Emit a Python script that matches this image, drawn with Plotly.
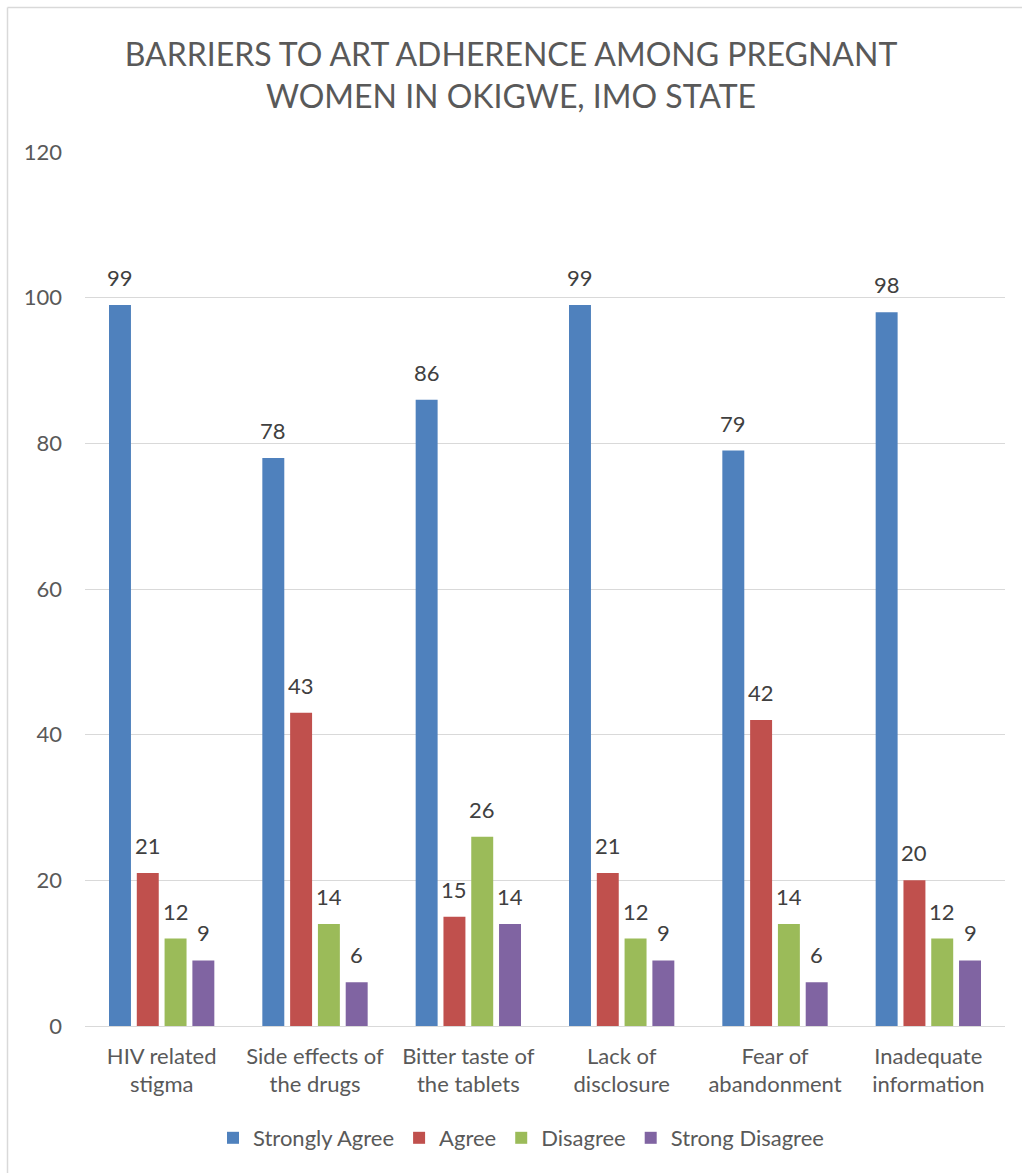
import plotly.graph_objects as go

categories = ["HIV related<br>stigma", "Side effects of<br>the drugs", "Bitter taste of<br>the tablets",
              "Lack of<br>disclosure", "Fear of<br>abandonment", "Inadequate<br>information"]
strongly_agree = [99, 78, 86, 99, 79, 98]
agree = [21, 43, 15, 21, 42, 20]
disagree = [12, 14, 26, 12, 14, 12]
strong_disagree = [9, 6, 14, 9, 6, 9]

series = [
    ("Strongly Agree", strongly_agree, "#4F81BD"),
    ("Agree", agree, "#C0504D"),
    ("Disagree", disagree, "#9BBB59"),
    ("Strong Disagree", strong_disagree, "#8064A2"),
]

FONT = "Lato, 'Open Sans', sans-serif"

W, H = 1022, 1173
L, R, T, B = 85, 1005, 152, 1026
BARGAP = 0.275
GROUPGAP = 0.21

fig = go.Figure()
for name, vals, color in series:
    fig.add_trace(go.Bar(
        x=categories, y=vals, name=name,
        marker=dict(color=color, line=dict(width=0)),
    ))

# value labels above each bar, offset horizontally to the bar's slot in the group
cat_px = (R - L) / len(categories)
slot_px = cat_px * (1 - BARGAP) / len(series)
annotations = []
for i, (name, vals, color) in enumerate(series):
    for cat, v in zip(categories, vals):
        annotations.append(dict(
            x=cat, y=v, xref="x", yref="y", text=str(v), showarrow=False,
            xanchor="center", yanchor="bottom", xshift=(i - 1.5) * slot_px, yshift=12,
            font=dict(size=22, color="#404040", family=FONT),
        ))


def px(x):
    return (x - L) / (R - L)


def py(y):
    return (B - y) / (B - T)


fig.update_layout(
    width=W, height=H,
    margin=dict(l=L, r=W - R, t=T, b=H - B),
    paper_bgcolor="white", plot_bgcolor="white",
    barmode="group", bargap=BARGAP, bargroupgap=GROUPGAP,
    font=dict(family=FONT, color="#595959", size=22),
    title=dict(
        text="BARRIERS TO ART ADHERENCE AMONG PREGNANT<br>WOMEN IN OKIGWE, IMO STATE",
        x=0.5, xanchor="center", y=1 - 66 / H, yanchor="middle",
        font=dict(size=32, color="#595959", family=FONT),
    ),
    yaxis=dict(
        range=[0, 120], dtick=20, showgrid=True, gridcolor="#d9d9d9", gridwidth=1.3,
        zeroline=False, showline=False, ticks="", ticklabelstandoff=22,
        tickfont=dict(size=22, color="#595959", family=FONT),
    ),
    xaxis=dict(
        showgrid=False, showline=True, linecolor="#d9d9d9", linewidth=1.3, ticks="",
        tickfont=dict(size=22, color="#595959", family=FONT), ticklabelstandoff=10,
    ),
    legend=dict(
        orientation="h", x=px(521), xanchor="center", y=py(1138), yanchor="middle",
        font=dict(size=22, color="#595959", family=FONT),
        itemwidth=30, traceorder="normal",
    ),
    annotations=annotations,
    shapes=[
        dict(type="line", xref="paper", yref="paper", x0=px(7.5), x1=px(1030), y0=py(7.5), y1=py(7.5),
             line=dict(color="#d9d9d9", width=1.5)),
        dict(type="line", xref="paper", yref="paper", x0=px(7.5), x1=px(7.5), y0=py(7.5), y1=py(1180),
             line=dict(color="#d9d9d9", width=1.5)),
    ],
)

fig.write_html("out.html")
